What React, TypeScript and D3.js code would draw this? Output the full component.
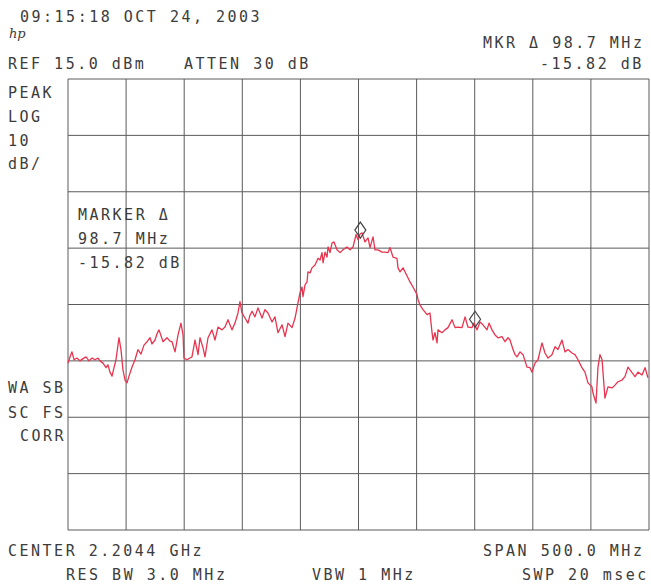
import React from 'react';
import * as d3 from 'd3';

// trace readout: frequency offset from start of span (MHz) and level (dBm)
const freqMHz = [
  0, 1.7, 3.4, 5.2, 7.7, 10.3, 12.9, 15.5, 18.1, 20.7, 23.2, 25.8, 27.5, 30.1, 32.7, 34.4, 36.1, 37.9, 39.6, 41.3,
  43.0, 43.9, 45.6, 47.3, 49.1, 50.8, 52.5, 55.1, 57.7, 60.2, 62.8, 65.4, 68.0, 70.6, 72.3, 74.9, 76.6, 78.3, 81.8, 85.2,
  87.8, 89.5, 92.1, 94.7, 97.2, 99.0, 99.8, 102.4, 105.0, 106.7, 109.3, 111.9, 113.6, 116.2, 117.9, 120.5, 123.9, 126.5, 129.1, 132.5,
  135.1, 137.7, 141.1, 143.7, 146.3, 148.0, 149.7, 152.3, 154.9, 156.6, 158.4, 160.9, 163.5, 167.0, 169.5, 172.1, 175.6, 178.1, 180.7, 184.2,
  186.8, 189.3, 192.8, 195.4, 197.9, 199.7, 201.4, 202.2, 204.0, 205.7, 206.5, 208.3, 210.0, 212.6, 215.2, 216.9, 218.6, 219.5, 221.2, 222.9,
  223.8, 225.5, 227.2, 228.9, 231.5, 234.1, 236.7, 240.1, 242.7, 245.3, 247.9, 249.6, 251.3, 253.0, 255.6, 258.2, 259.9, 262.5, 264.2, 266.8,
  270.2, 272.8, 275.4, 277.1, 279.7, 283.1, 284.0, 285.7, 288.3, 291.7, 294.3, 296.9, 300.3, 301.2, 302.9, 305.5, 309.0, 311.5, 313.3, 314.1,
  315.8, 317.6, 318.4, 321.9, 324.4, 327.0, 330.5, 333.1, 335.6, 339.1, 341.7, 344.2, 347.7, 349.4, 352.0, 354.6, 357.1, 360.6, 362.3, 364.9,
  367.5, 370.1, 373.5, 376.1, 378.7, 380.4, 383.0, 384.7, 386.4, 389.0, 391.6, 395.0, 397.6, 399.3, 401.9, 404.5, 407.9, 410.5, 413.1, 416.5,
  419.1, 421.7, 425.1, 427.7, 430.3, 433.7, 436.3, 438.9, 442.3, 444.9, 447.5, 450.9, 451.8, 454.4, 456.1, 457.8, 459.6, 462.1, 464.7, 468.2,
  470.7, 473.3, 476.8, 479.3, 481.9, 485.4, 488.0, 490.5, 494.0, 496.6, 499.1,
];
const levelDbm = [
  -35.4, -34.3, -33.4, -34.8, -34.5, -35.0, -34.6, -34.3, -35.0, -34.5, -34.8, -34.5, -35.0, -35.4, -36.2, -35.7, -37.0, -37.7, -36.2, -34.8,
  -32.2, -30.9, -33.0, -36.6, -38.4, -38.9, -37.7, -36.1, -34.8, -33.0, -33.8, -32.2, -31.6, -30.9, -32.0, -31.3, -30.2, -29.5, -31.6, -30.9,
  -31.5, -31.6, -33.4, -30.4, -28.3, -30.4, -34.5, -34.8, -34.5, -34.3, -31.3, -33.9, -30.9, -32.7, -34.3, -30.9, -29.5, -31.3, -29.0, -29.5,
  -29.0, -27.7, -29.5, -28.3, -26.5, -24.5, -26.5, -27.4, -28.3, -26.9, -26.2, -27.2, -25.6, -27.4, -25.9, -26.5, -28.1, -27.2, -30.0, -28.6,
  -30.7, -28.3, -29.1, -27.4, -24.7, -22.9, -21.9, -23.6, -21.5, -21.0, -19.2, -19.4, -18.5, -18.0, -16.8, -17.1, -15.8, -17.6, -15.7, -16.6,
  -14.8, -15.8, -14.1, -13.9, -15.3, -15.8, -15.3, -14.8, -15.3, -14.8, -12.6, -13.5, -12.5, -12.3, -13.9, -13.2, -14.9, -13.0, -15.3, -15.3,
  -15.7, -15.7, -15.8, -14.9, -16.6, -16.8, -18.5, -19.2, -18.5, -19.9, -21.0, -21.9, -23.2, -24.1, -25.1, -25.9, -26.8, -26.5, -30.0, -31.3,
  -30.0, -31.8, -29.5, -30.0, -29.5, -29.1, -27.7, -29.1, -29.0, -29.1, -27.2, -29.0, -29.1, -28.3, -29.5, -28.1, -28.6, -29.5, -28.3, -29.5,
  -30.4, -30.9, -30.7, -31.6, -30.9, -31.3, -33.0, -33.9, -34.3, -33.4, -33.9, -36.1, -36.2, -37.0, -35.4, -34.8, -31.8, -33.6, -34.5, -33.9,
  -32.5, -33.0, -31.3, -33.4, -33.0, -33.6, -33.9, -34.8, -36.2, -37.0, -38.9, -39.6, -40.7, -42.5, -36.1, -33.9, -34.8, -41.6, -39.6, -39.8,
  -39.3, -38.7, -38.4, -37.8, -36.1, -37.1, -37.8, -37.0, -37.5, -36.2, -38.0,
];

const refLevel = 15;
const dbPerDiv = 10;
const spanMHz = 500;

// markers
const refMarkerMHz = 251.6;
const refMarkerDbm = -11.8;
const deltaMHz = 98.7;
const deltaDb = -15.82;

const topLines = [
  { text: '09:15:18 OCT 24, 2003', x: 20, y: 22 },
  { text: 'MKR \u0394 98.7 MHz', x: 483, y: 48 },
  { text: 'REF 15.0 dBm', x: 8, y: 69 },
  { text: 'ATTEN 30 dB', x: 184, y: 69 },
  { text: '-15.82 dB', x: 540, y: 69 },
];
const leftLines = [
  { text: 'PEAK', x: 8, y: 98 },
  { text: 'LOG', x: 8, y: 122 },
  { text: '10', x: 8, y: 146 },
  { text: 'dB/', x: 8, y: 169 },
  { text: 'WA SB', x: 8, y: 393 },
  { text: 'SC FS', x: 8, y: 418 },
  { text: 'CORR', x: 20, y: 441 },
];
const markerLines = ['MARKER \u0394', '98.7 MHz', '-15.82 dB'];
const bottomLines = [
  { text: 'CENTER 2.2044 GHz', x: 8, y: 556 },
  { text: 'SPAN 500.0 MHz', x: 483, y: 556 },
  { text: 'RES BW 3.0 MHz', x: 66, y: 580 },
  { text: 'VBW 1 MHz', x: 312, y: 580 },
  { text: 'SWP 20 msec', x: 522, y: 580 },
];

const W = 651;
const H = 584;
const plot = { left: 68, right: 649, top: 79, bottom: 530 };

const font = {
  fontFamily: '"DejaVu Sans Mono", monospace',
  fontSize: 15,
  letterSpacing: 2.5,
  fill: '#3c3c3c',
};

export default function App() {
  const x = d3.scaleLinear().domain([0, spanMHz]).range([plot.left, plot.right]);
  const y = d3.scaleLinear().domain([refLevel - 8 * dbPerDiv, refLevel]).range([plot.bottom, plot.top]);

  const xGrid = d3.range(0, spanMHz + 1, spanMHz / 10);
  const yGrid = d3.range(refLevel - 8 * dbPerDiv, refLevel + 1, dbPerDiv);

  const pts = freqMHz.map((f, i) => [f, levelDbm[i]] as [number, number]);
  const line = d3.line<[number, number]>().x(d => x(d[0])).y(d => y(d[1]));

  const diamond = (cx: number, cy: number) =>
    `M${cx},${cy - 8}L${cx + 5.5},${cy}L${cx},${cy + 8}L${cx - 5.5},${cy}Z`;
  const m1 = [x(refMarkerMHz), y(refMarkerDbm)];
  const m2 = [x(refMarkerMHz + deltaMHz), y(refMarkerDbm + deltaDb)];

  return (
    <div style={{ position: 'absolute', left: 0, top: 0 }}>
      <svg width={W} height={H} style={{ display: 'block', background: '#fff' }}>
        <g stroke="#3f3f3f" strokeWidth={1} opacity={0.85}>
          {xGrid.map(v => (
            <line key={'x' + v} x1={x(v)} x2={x(v)} y1={plot.top} y2={plot.bottom} />
          ))}
          {yGrid.map(v => (
            <line key={'y' + v} x1={plot.left} x2={plot.right} y1={y(v)} y2={y(v)} />
          ))}
        </g>

        <path d={line(pts) || ''} fill="none" stroke="#e8344f" strokeWidth={1.3} strokeLinejoin="round" />

        <g fill="none" stroke="#444" strokeWidth={1.2}>
          <path d={diamond(m1[0], m1[1])} />
          <path d={diamond(m2[0], m2[1])} />
        </g>

        <g style={font}>
          {[...topLines, ...leftLines, ...bottomLines].map(t => (
            <text key={t.text + t.x} x={t.x} y={t.y}>{t.text}</text>
          ))}
          {markerLines.map((t, i) => (
            <text key={t} x={78} y={220 + i * 24}>{t}</text>
          ))}
        </g>
        <text x={9} y={38} style={{ fontFamily: '"DejaVu Serif", serif', fontStyle: 'italic', fontSize: 13, fill: '#3c3c3c' }}>hp</text>
      </svg>
    </div>
  );
}
